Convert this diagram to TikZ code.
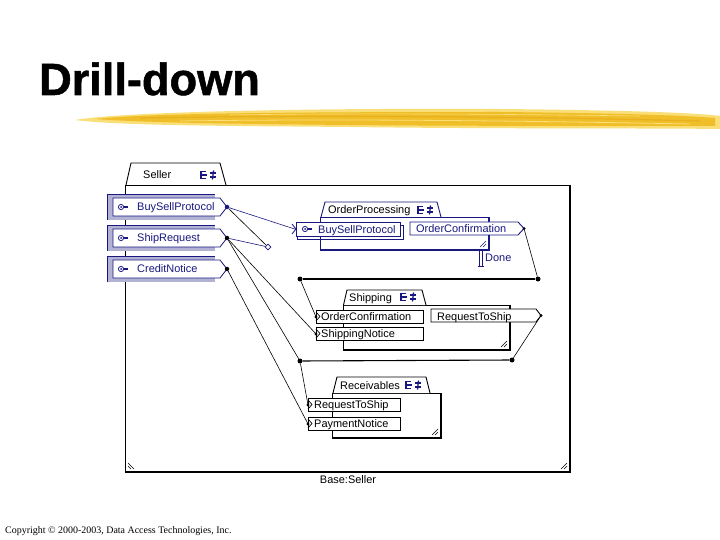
\documentclass[tikz,border=0pt]{standalone}
\usepackage{fontspec}
\setmainfont{Liberation Sans}
\newfontfamily\copyfont{Liberation Serif}
\newfontfamily\titlefont{Liberation Sans}[BoldFeatures={FakeBold=1.2}]
\usetikzlibrary{shapes.geometric}
\definecolor{navy}{RGB}{24,24,128}
\definecolor{lav}{RGB}{178,178,212}
\definecolor{gold}{RGB}{240,190,40}
\definecolor{goldlt}{RGB}{250,222,120}
\definecolor{golddk}{RGB}{232,176,30}

\tikzset{
  lbl/.style={font=\fontsize{11}{12}\selectfont, inner sep=0, anchor=base west},
  conn/.style={line width=0.6},
  bus/.style={line width=1.1},
  bigdot/.style={circle, fill, inner sep=0, minimum size=5bp},
  thickb/.style={line width=2.4},
  frame/.style={line width=0.9},
  inbox/.style={draw, fill=white, rectangle, inner sep=0, anchor=north west, line width=0.9},
}

\newcommand\compicon[3]{%
  \begin{scope}[shift={(#1,#2)}, #3, line width=1.3]
    \draw (5,-3.5) -- (0,-3.5) -- (0,3.5) -- (5,3.5);
    \draw (-1.5,0) -- (6,0);
    \draw (9,-2) -- (15,-2);
    \draw (9,2) -- (15,2);
    \draw (12.5,-4.5) -- (11.5,4.5);
  \end{scope}}

\newcommand\resizemark[2]{%
  \draw[line width=0.5] (#1-6,#2) -- (#1,#2-6);
  \draw[line width=0.5] (#1-3,#2) -- (#1,#2-3);}

\newcommand\keyicon[3]{%
  \draw[#3, line width=0.8] (#1,#2) circle (2.6);
  \fill[#3] (#1,#2) circle (1);
  \draw[#3, line width=1.3] (#1+2.6,#2) -- (#1+7,#2);}

\newcommand\sellerport[4]{% top y, name, text, dot colour
  \fill[lav] (107,#1) rectangle (215,#1+26);
  \draw[navy, line width=0.8] (107,#1+26) -- (107,#1) -- (215,#1);
  \draw[navy, fill=white, line width=0.8] (113,#1+4) -- (220,#1+4) -- (227,#1+13) -- (220,#1+22) -- (113,#1+22) -- cycle;
  \keyicon{121}{#1+13}{navy}
  \node[lbl, text=navy] at (137,#1+17) {#3};
  \node[bigdot, #4, minimum size=4.5bp] (#2) at (227,#1+13) {};}

\begin{document}
\begin{tikzpicture}[x=1bp, y=-1bp]
\useasboundingbox (0,0) rectangle (720,540);

% title
\node[anchor=base west, inner sep=0, font=\titlefont\fontsize{45.3}{46}\selectfont\bfseries] (title) at (39,95) {Drill-down};

% brush stroke
\fill[goldlt] (75,120) .. controls (120,112) and (300,108) .. (500,109) .. controls (600,110) and (690,112) .. (720,116) -- (720,129) .. controls (650,128) and (500,129) .. (350,127) .. controls (250,126) and (120,126) .. (75,120) -- cycle;
\fill[gold] (95,119) .. controls (150,113) and (300,112) .. (500,112) .. controls (600,113) and (680,115) .. (715,118) -- (715,126) .. controls (600,126) and (450,126) .. (350,125) .. controls (250,124) and (150,123) .. (95,119) -- cycle;
\draw[golddk, line width=1.2] (140,118) .. controls (300,115) and (500,116) .. (700,121);
\draw[goldlt, line width=0.8] (180,121) .. controls (320,119) and (480,120) .. (690,124);
\draw[goldlt, line width=0.6] (230,115) .. controls (350,113) and (500,114) .. (640,116);

% Seller frame
\draw[frame] (126,185) -- (131,163) -- (220,163) -- (226,185);
\node[lbl] (sellerL) at (143,179) {Seller};
\compicon{201}{175}{navy}
\draw[frame] (125,472) -- (125,185) -- (570,185);
\draw[thickb] (570,185) -- (570,472) -- (125,472);
\resizemark{567}{469}
\draw[line width=0.5] (128,463) -- (134,469);
\draw[line width=0.5] (128,466) -- (131,469);
\node[lbl, anchor=base] (baseL) at (348,483) {Base:Seller};

% Seller ports
\sellerport{194}{sBuy}{BuySellProtocol}{navy}
\sellerport{225}{sShip}{ShipRequest}{black}
\sellerport{256}{sCredit}{CreditNotice}{black}

% OrderProcessing
\draw[navy, frame] (320,250) -- (320,217) -- (489,217);
\draw[navy, thickb] (489,217) -- (489,250) -- (320,250);
\draw[navy, frame, fill=white] (321,217) -- (325,202) -- (437,202) -- (441,217);
\node[lbl] (opL) at (328,214) {OrderProcessing};
\compicon{418}{210}{navy}
\draw[navy, frame] (297,236) -- (297,239.5) -- (403.5,239.5) -- (403.5,225) -- (400,225);
\node[inbox, draw=navy, minimum width=104bp, minimum height=14bp] (opBuy) at (296,222) {};
\draw[navy, line width=0.8] (292,224) -- (296,229) -- (292,234);
\keyicon{305}{229}{navy}
\node[lbl, text=navy] at (318,234) {BuySellProtocol};
\draw[navy, frame, fill=white] (410,222) -- (518,222) -- (524,228.5) -- (518,235) -- (410,235) -- cycle;
\coordinate (opOC) at (524,228.5);
\node[lbl, text=navy] at (416,232.5) {OrderConfirmation};
\draw[navy, line width=0.8] (479.5,250) -- (479.5,266) (482,250) -- (482,266) (477.5,266) -- (484,266);
\node[lbl, text=navy] (doneL) at (485,261.5) {Done};
\begin{scope}[navy]\resizemark{486}{247}\end{scope}

% Shipping
\draw[frame] (343,350) -- (343,305) -- (510,305);
\draw[thickb] (510,305) -- (510,350) -- (343,350);
\draw[frame, fill=white] (343.5,305) -- (347,290) -- (422,290) -- (426,305);
\node[lbl] (shL) at (349,301) {Shipping};
\compicon{401}{297}{navy}
\resizemark{507}{347}
\node[inbox, minimum width=107bp, minimum height=13bp] (shOC) at (316,310) {};
\draw[line width=0.7] (316,312) -- (320,316.5) -- (316,321);
\node[lbl] at (321,320.5) {OrderConfirmation};
\node[inbox, minimum width=107bp, minimum height=13bp] (shSN) at (316,327) {};
\draw[line width=0.7] (316,329) -- (320,333.5) -- (316,338);
\node[lbl] at (321,337.5) {ShippingNotice};
\draw[frame, fill=white] (431,309) -- (536,309) -- (541,315.5) -- (536,322) -- (431,322) -- cycle;
\coordinate (shRTS) at (541,315.5);
\node[lbl] at (437,320) {RequestToShip};

% Receivables
\draw[frame] (332,438) -- (332,393) -- (441,393);
\draw[thickb] (441,393) -- (441,438) -- (332,438);
\draw[frame, fill=white] (333,393) -- (337,377) -- (426,377) -- (430,393);
\node[lbl] (rvL) at (340,389) {Receivables};
\compicon{406}{385}{navy}
\resizemark{438}{435}
\node[inbox, minimum width=92bp, minimum height=13bp] (rvRTS) at (308,398) {};
\draw[line width=0.7] (308,400) -- (312,404.5) -- (308,409);
\node[lbl] at (314,408.5) {RequestToShip};
\node[inbox, minimum width=92bp, minimum height=13bp] (rvPN) at (308,417) {};
\draw[line width=0.7] (308,419) -- (312,423.5) -- (308,428);
\node[lbl] at (314,427.5) {PaymentNotice};

% junction dots
\node[bigdot] (b1L) at (300,279) {};
\node[bigdot] (b1R) at (538,279) {};
\node[bigdot] (b2L) at (300,361) {};
\node[bigdot] (b2R) at (512,360) {};
\node[diamond, draw=navy, fill=white, inner sep=0, minimum size=6bp, line width=0.8] (dia) at (268,247) {};

% connectors
\draw[navy, conn] (sBuy) -- (opBuy.west);
\draw[conn] (sBuy) -- (dia);
\draw[navy, conn] (sShip) -- (dia);
\draw[conn] (sShip) -- (shSN.west);
\draw[conn] (sShip) -- (b2L);
\draw[conn] (sCredit) -- (rvPN.west);
\draw[conn] (opOC) -- (b1R);
\draw[bus] (b1R) -- (b1L);
\draw[conn] (b1L) -- (shOC.west);
\draw[conn] (shRTS) -- (b2R);
\draw[bus] (b2R) -- (b2L);
\draw[conn] (b2L) -- (rvRTS.west);
\fill (shOC.west) circle (1.6);
\fill (shSN.west) circle (1.6);
\fill (rvRTS.west) circle (1.6);
\fill (rvPN.west) circle (1.6);
\fill (opOC) circle (1.5);
\fill (shRTS) circle (1.5);

% copyright
\node[anchor=base west, inner sep=0, font=\copyfont\fontsize{10}{11}\selectfont] (copy) at (5,533) {Copyright © 2000-2003, Data Access Technologies, Inc.};
\end{tikzpicture}
\end{document}
